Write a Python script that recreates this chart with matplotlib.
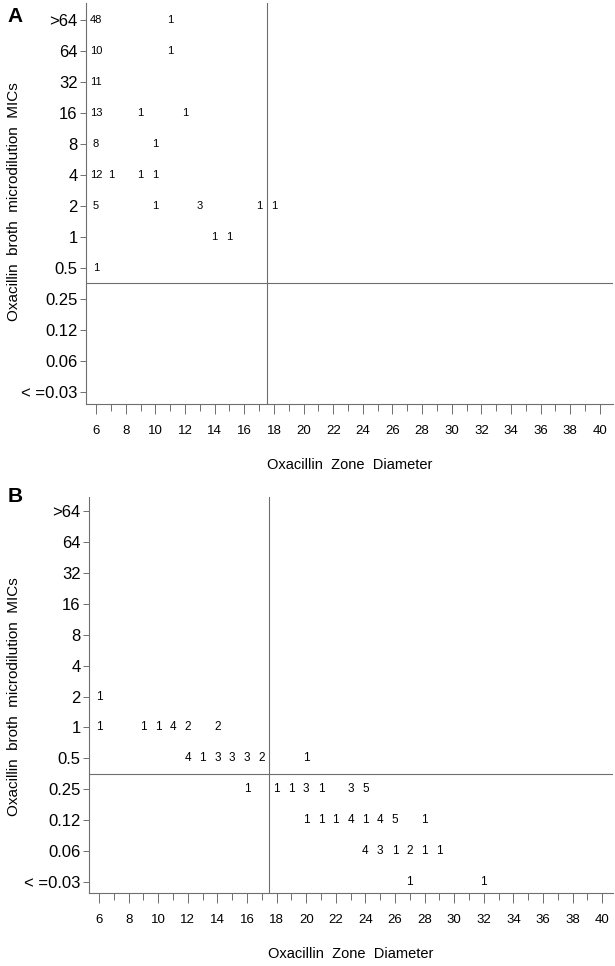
import numpy as np
import matplotlib
matplotlib.use('Agg')
import matplotlib.pyplot as plt
from matplotlib.ticker import MultipleLocator

# MIC categories, bottom to top
mic_labels = ['< =0.03', '0.06', '0.12', '0.25', '0.5', '1', '2', '4', '8', '16', '32', '64', '>64']

# panel A: (zone diameter, MIC category, count)
a_zone = [6, 11, 6, 11, 6, 6, 9, 12, 6, 10, 6, 7, 9, 10, 6, 10, 13, 17, 18, 14, 15, 6]
a_mic = ['>64', '>64', '64', '64', '32', '16', '16', '16', '8', '8', '4', '4', '4', '4',
         '2', '2', '2', '2', '2', '1', '1', '0.5']
a_count = [48, 1, 10, 1, 11, 13, 1, 1, 8, 1, 12, 1, 1, 1, 5, 1, 3, 1, 1, 1, 1, 1]

# panel B
b_zone = [6,
          6, 9, 10, 11, 12, 14,
          12, 13, 14, 15, 16, 17, 20,
          16, 18, 19, 20, 21, 23, 24,
          20, 21, 22, 23, 24, 25, 26, 28,
          24, 25, 26, 27, 28, 29,
          27, 32]
b_mic = ['2',
         '1', '1', '1', '1', '1', '1',
         '0.5', '0.5', '0.5', '0.5', '0.5', '0.5', '0.5',
         '0.25', '0.25', '0.25', '0.25', '0.25', '0.25', '0.25',
         '0.12', '0.12', '0.12', '0.12', '0.12', '0.12', '0.12', '0.12',
         '0.06', '0.06', '0.06', '0.06', '0.06', '0.06',
         '< =0.03', '< =0.03']
b_count = [1,
           1, 1, 1, 4, 2, 2,
           4, 1, 3, 3, 3, 2, 1,
           1, 1, 1, 3, 1, 3, 5,
           1, 1, 1, 4, 1, 4, 5, 1,
           4, 3, 1, 2, 1, 1,
           1, 1]

zone_ticks = list(range(6, 41, 2))
zone_break = 17.5
mic_break = 3.5

font = ['Liberation Sans', 'DejaVu Sans']
plt.rcParams['font.family'] = font
line_col = '#6e6e6e'

fig = plt.figure(figsize=(6.15, 9.66), dpi=100)
fig.patch.set_facecolor('white')


def panel(rect, zone, mic, count, ylim, xlim, cnt_size):
    ax = fig.add_axes(rect)
    for s in ['top', 'right']:
        ax.spines[s].set_visible(False)
    for s in ['left', 'bottom']:
        ax.spines[s].set_color(line_col)
        ax.spines[s].set_linewidth(0.8)
    ax.set_xlim(*xlim)
    ax.set_ylim(*ylim)
    ax.set_yticks(range(len(mic_labels)))
    ax.set_yticklabels(mic_labels, fontsize=12)
    ax.set_xticks(zone_ticks)
    ax.set_xticklabels([str(t) for t in zone_ticks], fontsize=9.5)
    ax.xaxis.set_minor_locator(MultipleLocator(1))
    ax.tick_params(axis='y', length=4, width=0.7, color=line_col, pad=2)
    ax.tick_params(axis='x', which='major', length=7, width=0.7, color=line_col, pad=8)
    ax.tick_params(axis='x', which='minor', length=5, width=0.7, color=line_col)
    ax.axvline(zone_break, color=line_col, lw=0.8)
    ax.axhline(mic_break, color=line_col, lw=0.8)
    for z, m, c in zip(zone, mic, count):
        ax.text(z, mic_labels.index(m), str(c), ha='center', va='center',
                fontsize=cnt_size)
    ax.set_xlabel('Oxacillin  Zone  Diameter', fontsize=10.5, labelpad=15)
    return ax


axA = panel([86 / 615, 1 - 404 / 966, 527 / 615, 401 / 966],
            a_zone, a_mic, a_count, (-0.39, 12.55), (5.32, 40.88), 8)
axB = panel([89 / 615, 1 - 893 / 966, 524 / 615, 396 / 966],
            b_zone, b_mic, b_count, (-0.35, 12.45), (5.32, 40.73), 8.5)

ylab = 'Oxacillin  broth  microdilution  MICs'
fig.text(14 / 615, 1 - 202 / 966, ylab, rotation=90,
         ha='center', va='center', fontsize=11)
fig.text(14 / 615, 1 - 697 / 966, ylab, rotation=90,
         ha='center', va='center', fontsize=11)
fig.text(15 / 615, 1 - 17 / 966, 'A', ha='center', va='center', fontsize=15,
         fontweight='bold')
fig.text(15 / 615, 1 - 497 / 966, 'B', ha='center', va='center', fontsize=15,
         fontweight='bold')

fig.savefig('out.png', dpi=100, facecolor='white')
